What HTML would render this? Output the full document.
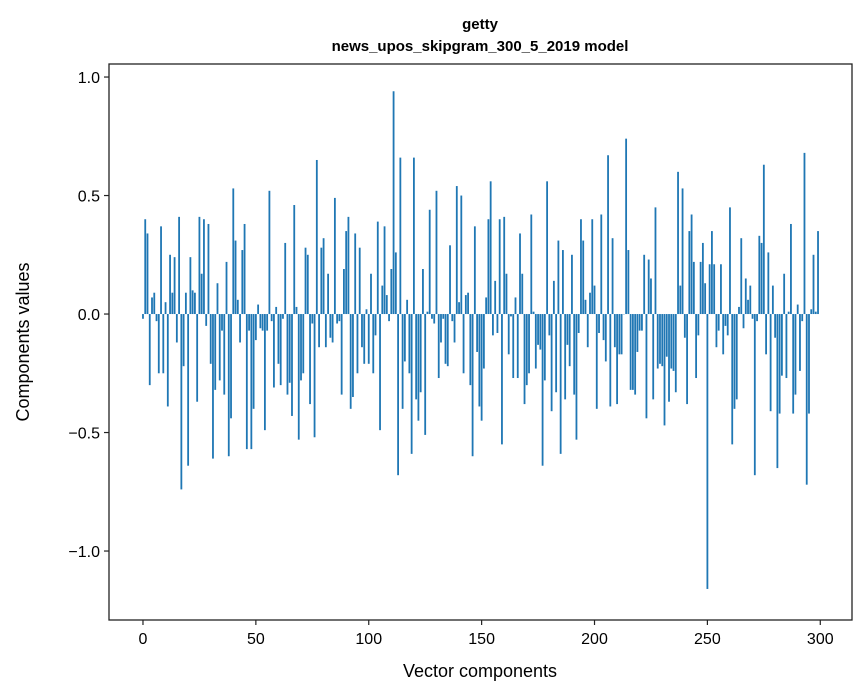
<!DOCTYPE html>
<html><head><meta charset="utf-8"><style>
html,body{margin:0;padding:0;background:#fff;}
svg{display:block;font-family:"Liberation Sans","DejaVu Sans",sans-serif;}
</style></head><body>
<svg id="chart" width="867" height="696" viewBox="0 0 867 696">
<rect width="867" height="696" fill="#fff"/>
<text x="480" y="29" text-anchor="middle" font-size="15" font-weight="bold">getty</text>
<text x="480" y="51" text-anchor="middle" font-size="15" font-weight="bold">news_upos_skipgram_300_5_2019 model</text>
<g id="bars"></g>
<g id="axes"></g>
<text x="480" y="677" text-anchor="middle" font-size="18">Vector components</text>
<text transform="translate(29,342) rotate(-90)" text-anchor="middle" font-size="18">Components values</text>
</svg>
<script>
const values = [-0.02,0.40,0.34,-0.30,0.07,0.09,-0.03,-0.25,0.37,-0.25,0.05,-0.39,0.25,0.09,0.24,-0.12,0.41,-0.74,-0.22,0.09,-0.64,0.24,0.10,0.09,-0.37,0.41,0.17,0.40,-0.05,0.38,-0.21,-0.61,-0.32,0.13,-0.28,-0.07,-0.34,0.22,-0.60,-0.44,0.53,0.31,0.06,-0.12,0.27,0.38,-0.57,-0.07,-0.57,-0.40,-0.11,
0.04,-0.06,-0.07,-0.49,-0.07,0.52,-0.03,-0.31,0.03,-0.21,-0.30,-0.02,0.30,-0.34,-0.29,-0.43,0.46,0.03,-0.53,-0.28,-0.25,0.28,0.25,-0.38,-0.04,-0.52,0.65,-0.14,0.28,0.32,-0.14,0.17,-0.10,-0.12,0.49,-0.04,-0.03,-0.34,0.19,0.35,0.41,-0.40,-0.35,0.34,-0.25,0.28,-0.14,-0.21,0.02,-0.21,
0.17,-0.25,-0.09,0.39,-0.49,0.12,0.37,0.08,-0.03,0.19,0.94,0.26,-0.68,0.66,-0.40,-0.20,0.06,-0.25,-0.59,0.66,-0.36,-0.45,-0.33,0.19,-0.51,0.01,0.44,-0.02,-0.04,0.52,-0.27,-0.12,-0.02,-0.21,-0.22,0.29,-0.03,-0.12,0.54,0.05,0.50,-0.25,0.08,0.09,-0.30,-0.60,0.37,-0.16,-0.39,-0.45,
-0.23,0.07,0.40,0.56,-0.09,0.14,-0.08,0.40,-0.55,0.41,0.17,-0.17,-0.01,-0.27,0.07,-0.27,0.34,0.17,-0.38,-0.30,-0.25,0.42,0.01,-0.23,-0.13,-0.15,-0.64,-0.28,0.56,-0.09,-0.41,0.14,-0.33,0.31,-0.59,0.27,-0.36,-0.13,-0.22,0.25,-0.34,-0.53,-0.08,0.40,0.31,0.06,-0.14,0.09,0.40,0.12,
-0.40,-0.08,0.42,-0.11,-0.20,0.67,-0.39,0.32,-0.14,-0.38,-0.17,-0.17,0.0,0.74,0.27,-0.32,-0.32,-0.34,-0.16,-0.07,-0.07,0.25,-0.44,0.23,0.15,-0.36,0.45,-0.23,-0.21,-0.22,-0.47,-0.18,-0.37,-0.23,-0.24,-0.33,0.60,0.12,0.53,-0.10,-0.38,0.35,0.42,0.22,-0.27,-0.09,0.22,0.30,0.13,-1.16,
0.21,0.35,0.21,-0.14,-0.07,0.21,-0.17,-0.05,-0.09,0.45,-0.55,-0.40,-0.36,0.03,0.32,-0.06,0.15,0.06,0.12,-0.02,-0.68,-0.03,0.33,0.30,0.63,-0.17,0.26,-0.41,0.12,-0.10,-0.65,-0.42,-0.26,0.17,-0.27,0.01,0.38,-0.42,-0.34,0.04,-0.24,-0.03,0.68,-0.72,-0.42,0.02,0.25,0.01,0.35];
const xTicks = [0,50,100,150,200,250,300];
const yTicks = [-1.0,-0.5,0.0,0.5,1.0];
const yTickLabels = ["\u22121.0","\u22120.5","0.0","0.5","1.0"];

const NS = "http://www.w3.org/2000/svg";
const L = 109, R = 852, T = 64, B = 620;
const xMin = -15.05, xMax = 314.05, yMin = -1.291, yMax = 1.055;
function xs(v){ return L + (v - xMin) / (xMax - xMin) * (R - L); }
function ys(v){ return T + (yMax - v) / (yMax - yMin) * (B - T); }
function mk(tag, attrs){ const e = document.createElementNS(NS, tag); for (const k in attrs) e.setAttribute(k, attrs[k]); return e; }

const bars = document.getElementById('bars');
values.forEach((v, i) => {
  const x0 = xs(i - 0.4), x1 = xs(i + 0.4);
  const y0 = ys(Math.max(v, 0)), y1 = ys(Math.min(v, 0));
  const r = mk('rect', {x: x0, y: y0, width: x1 - x0, height: Math.max(y1 - y0, 0.3), fill: '#1f77b4'});
  
  
  bars.appendChild(r);
});

const axes = document.getElementById('axes');
const frame = mk('rect', {x: L, y: T, width: R - L, height: B - T, fill: 'none', stroke: '#222', 'stroke-width': 1.3});


axes.appendChild(frame);
xTicks.forEach(t => {
  const x = xs(t);
  const ln = mk('line', {x1: x, x2: x, y1: B, y2: B + 5, stroke: '#222', 'stroke-width': 1.2});
  
  
  axes.appendChild(ln);
  const tx = mk('text', {x: x, y: B + 24, 'text-anchor': 'middle', 'font-size': 16, fill: '#000'});
  tx.textContent = String(t);
  
  
  axes.appendChild(tx);
});
yTicks.forEach((t, i) => {
  const y = ys(t);
  const ln = mk('line', {x1: L - 5, x2: L, y1: y, y2: y, stroke: '#222', 'stroke-width': 1.2});
  
  
  axes.appendChild(ln);
  const tx = mk('text', {x: L - 9, y: y + 6, 'text-anchor': 'end', 'font-size': 16, fill: '#000'});
  tx.textContent = yTickLabels[i];
  
  
  axes.appendChild(tx);
});
</script>
</body></html>
